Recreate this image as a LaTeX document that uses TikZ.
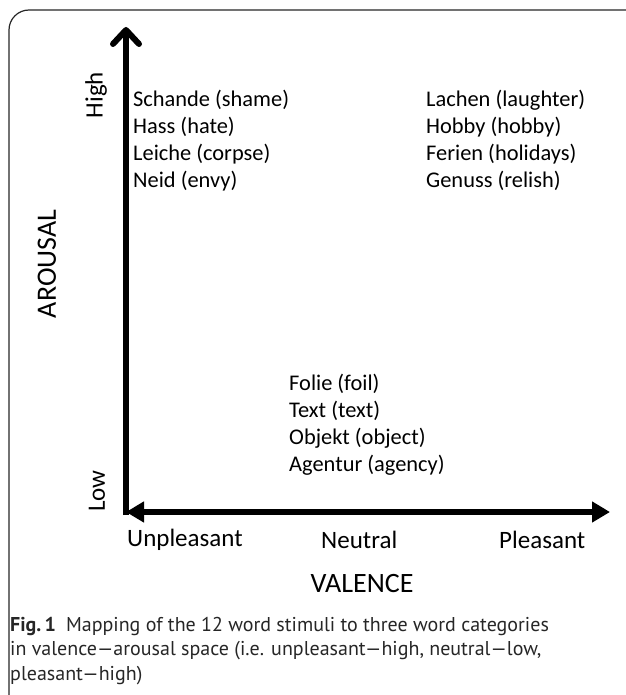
\documentclass[tikz,border=0pt]{standalone}
\usepackage{fontspec}
\setmainfont{Carlito}
\newfontfamily\capfont{PT Sans}
\usetikzlibrary{arrows.meta}

\begin{document}
\begin{tikzpicture}[
    x=1pt, y=-1pt,
    axis/.style={line width=6pt, black},
    frameline/.style={line width=1.2pt, black!85},
    word/.style={anchor=west, inner sep=0pt, font=\fontsize{22.4}{27}\selectfont},
    ticklabel/.style={inner sep=0pt, font=\fontsize{25}{30}\selectfont},
    axislabel/.style={inner sep=0pt, font=\fontsize{28}{34}\selectfont},
    captext/.style={anchor=north west, inner sep=0pt, align=left,
        font=\capfont\fontsize{20}{24.5}\selectfont, text=black!85}
]
    \useasboundingbox (0,0) rectangle (625,695);

    % Open frame round the figure
    \draw[frameline, rounded corners=20pt] (626,10) -- (9,10) -- (9,696);

    % Axes
    \coordinate (origin) at (126,512);
    \coordinate (ytop) at (126,27);
    \coordinate (xend) at (610,512);
    \draw[axis, -{Straight Barb[length=14pt, width=26pt, line cap=round, line join=round]}]
        (126,515) -- (ytop);
    \draw[axis, {Triangle[length=18pt, width=20pt]}-{Triangle[length=18pt, width=20pt]}]
        (origin) -- (xend);

    % Arousal axis labels
    \node[ticklabel, rotate=90] (high) at (96,95) {High};
    \node[ticklabel, rotate=90] (low) at (97,491) {Low};
    \node[axislabel, rotate=90] (arousal) at (47,264) {AROUSAL};

    % Valence axis labels
    \node[ticklabel, anchor=west] (unpl) at (127,540) {Unpleasant};
    \node[ticklabel, anchor=west] (neut) at (321,540) {Neutral};
    \node[ticklabel, anchor=west] (plea) at (499,540) {Pleasant};
    \node[axislabel] (valence) at (362,584) {VALENCE};

    % Word stimuli per category
    \foreach \w [count=\i] in {Schande (shame), Hass (hate), Leiche (corpse), Neid (envy)}
        \node[word] (unpl\i) at (133, 73+27*\i) {\w};
    \foreach \w [count=\i] in {Lachen (laughter), Hobby (hobby), Ferien (holidays), Genuss (relish)}
        \node[word] (plea\i) at (426, 73+27*\i) {\w};
    \foreach \w [count=\i] in {Folie (foil), Text (text), Objekt (object), Agentur (agency)}
        \node[word] (neut\i) at (289, 357+27*\i) {\w};

    % Caption
    \node[captext] (caption) at (10,617) {{\bfseries Fig.\,1}\enspace Mapping of the 12 word stimuli to three word categories\\
        in valence—arousal space (i.e. unpleasant—high, neutral—low,\\
        pleasant—high)};
\end{tikzpicture}
\end{document}
